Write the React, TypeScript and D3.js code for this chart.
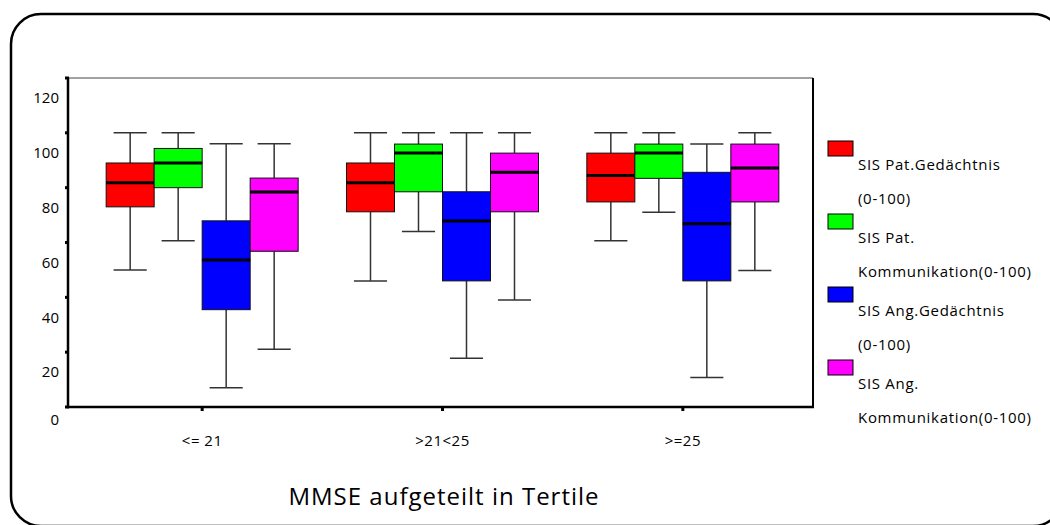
import React, {useEffect, useRef} from 'react';
import * as d3 from 'd3';

// MMSE tertiles on the x axis, four SIS scores per tertile
const groups = ['<= 21', '>21<25', '>=25'];
const seriesNames = [
    ['SIS Pat.Gedächtnis', '(0-100)'],
    ['SIS Pat.', 'Kommunikation(0-100)'],
    ['SIS Ang.Gedächtnis', '(0-100)'],
    ['SIS Ang.', 'Kommunikation(0-100)']
];
const seriesColors = ['#ff0000', '#00ff00', '#0000ff', '#ff00ff'];
const yTicks = [0, 20, 40, 60, 80, 100, 120];

// [min, q1, median, q3, max] for each tertile
const patGedaechtnis = [
    [50, 73, 81.8, 89, 100],
    [46, 71.2, 81.8, 89, 100],
    [60.6, 74.8, 84.4, 92.6, 100]
];
const patKommunikation = [
    [60.6, 80, 89, 94.3, 100],
    [64, 78.5, 92.6, 95.9, 100],
    [71, 83.4, 92.6, 95.9, 100]
];
const angGedaechtnis = [
    [7, 35.5, 53.6, 67.9, 96],
    [17.8, 46, 67.8, 78.5, 100],
    [10.8, 46, 66.8, 85.6, 95.9]
];
const angKommunikation = [
    [21.1, 56.8, 78.4, 83.5, 96],
    [39, 71.2, 85.6, 92.6, 100],
    [49.8, 74.8, 87.2, 95.9, 100]
];

const allSeries = [patGedaechtnis, patKommunikation, angGedaechtnis, angKommunikation];

const width = 1050;
const height = 525;
const plot = {left: 68, right: 813, top: 78, bottom: 407};
const font = '"Open Sans", "DejaVu Sans", sans-serif';

function App() {
    const ref = useRef<SVGSVGElement>(null);

    useEffect(() => {
        drawChart();
    }, []);

    function drawChart() {
        const svg = d3.select(ref.current);
        svg.selectAll('*').remove();

        // outer rounded frame
        svg.append('rect')
            .attr('x', 11).attr('y', 14)
            .attr('width', 1052).attr('height', 512)
            .attr('rx', 30).attr('ry', 30)
            .attr('fill', 'none')
            .attr('stroke', '#000')
            .attr('stroke-width', 2.5);

        const y = d3.scaleLinear().domain([0, 120]).range([plot.bottom, plot.top]);
        const x = d3.scaleBand<string>().domain(groups).range([82, 803]);
        const inner = d3.scaleBand<number>().domain([0, 1, 2, 3]).range([-96, 96]);
        const boxW = inner.bandwidth();
        const capW = boxW * 0.69;

        // plot frame
        svg.append('line')
            .attr('x1', plot.left).attr('x2', plot.right)
            .attr('y1', plot.top).attr('y2', plot.top)
            .attr('stroke', '#444').attr('stroke-width', 1);
        svg.append('line')
            .attr('x1', plot.right).attr('x2', plot.right)
            .attr('y1', plot.top).attr('y2', plot.bottom)
            .attr('stroke', '#000').attr('stroke-width', 2);

        // boxes
        allSeries.forEach((series, s) => {
            series.forEach((d, g) => {
                const [mn, q1, med, q3, mx] = d;
                const cx = x(groups[g])! + x.bandwidth() / 2 + inner(s)! + boxW / 2;
                const grp = svg.append('g');

                grp.append('line')
                    .attr('x1', cx).attr('x2', cx)
                    .attr('y1', y(mx)).attr('y2', y(q3))
                    .attr('stroke', '#333').attr('stroke-width', 1.5);
                grp.append('line')
                    .attr('x1', cx).attr('x2', cx)
                    .attr('y1', y(q1)).attr('y2', y(mn))
                    .attr('stroke', '#333').attr('stroke-width', 1.5);
                [mn, mx].forEach((v) => {
                    grp.append('line')
                        .attr('x1', cx - capW / 2).attr('x2', cx + capW / 2)
                        .attr('y1', y(v)).attr('y2', y(v))
                        .attr('stroke', '#333').attr('stroke-width', 1.5);
                });

                grp.append('rect')
                    .attr('x', cx - boxW / 2)
                    .attr('y', y(q3))
                    .attr('width', boxW)
                    .attr('height', y(q1) - y(q3))
                    .attr('fill', seriesColors[s])
                    .attr('stroke', '#111')
                    .attr('stroke-width', 1);

                grp.append('line')
                    .attr('x1', cx - boxW / 2).attr('x2', cx + boxW / 2)
                    .attr('y1', y(med)).attr('y2', y(med))
                    .attr('stroke', '#000').attr('stroke-width', 3);
            });
        });

        // y axis
        svg.append('line')
            .attr('x1', plot.left).attr('x2', plot.left)
            .attr('y1', plot.top).attr('y2', plot.bottom + 1)
            .attr('stroke', '#000').attr('stroke-width', 2.5);
        yTicks.forEach((t) => {
            svg.append('rect')
                .attr('x', plot.left - 3).attr('y', y(t) - 1.5)
                .attr('width', 4).attr('height', 3)
                .attr('fill', '#000');
            // the old chart puts its labels a bit below the ticks
            svg.append('text')
                .attr('x', 59)
                .attr('y', Math.min(y(t) + 20, plot.bottom + 13))
                .attr('dy', '0.35em')
                .attr('text-anchor', 'end')
                .attr('font-family', font)
                .attr('font-size', '15px')
                .text(t);
        });

        // x axis
        svg.append('line')
            .attr('x1', plot.left - 1).attr('x2', plot.right + 1)
            .attr('y1', plot.bottom).attr('y2', plot.bottom)
            .attr('stroke', '#000').attr('stroke-width', 2.5);
        groups.forEach((g) => {
            const cx = x(g)! + x.bandwidth() / 2;
            svg.append('rect')
                .attr('x', cx - 1.5).attr('y', plot.bottom)
                .attr('width', 3).attr('height', 4)
                .attr('fill', '#000');
            svg.append('text')
                .attr('x', cx).attr('y', 441)
                .attr('dy', '0.35em')
                .attr('text-anchor', 'middle')
                .attr('font-family', font)
                .attr('font-size', '15px')
                .attr('letter-spacing', '0.5px')
                .text(g);
        });

        svg.append('text')
            .attr('x', 444).attr('y', 505)
            .attr('text-anchor', 'middle')
            .attr('font-family', font)
            .attr('font-size', '24px')
            .attr('letter-spacing', '1px')
            .text('MMSE aufgeteilt in Tertile');

        // legend
        seriesNames.forEach((lines, i) => {
            const top = 141 + i * 73;
            svg.append('rect')
                .attr('x', 828).attr('y', top)
                .attr('width', 25).attr('height', 15)
                .attr('fill', seriesColors[i])
                .attr('stroke', '#000').attr('stroke-width', 1);
            lines.forEach((line, j) => {
                svg.append('text')
                    .attr('x', 858).attr('y', top + 24 + j * 34)
                    .attr('dy', '0.35em')
                    .attr('font-family', font)
                    .attr('font-size', '15px')
                    .attr('letter-spacing', '0.7px')
                    .text(line);
            });
        });
    }

    return (
        <svg ref={ref} width={width} height={height}
             style={{position: 'absolute', left: 0, top: 0, background: '#fff'}}/>
    );
}

export default App;
